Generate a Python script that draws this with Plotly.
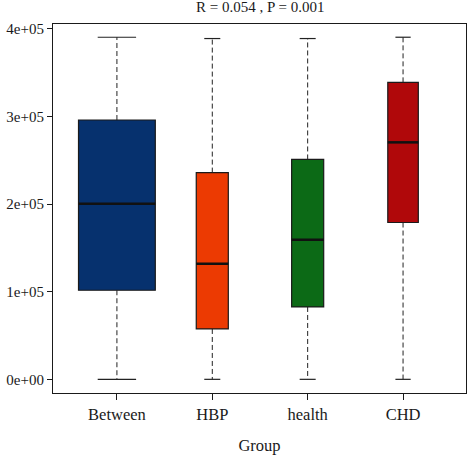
import plotly.graph_objects as go

groups = ["Between", "HBP", "health", "CHD"]
lower_whisker = [0, 0, 0, 0]
q1 = [101700, 57500, 82600, 179000]
median = [200300, 131800, 159200, 270500]
q3 = [296000, 236000, 251000, 339000]
upper_whisker = [390500, 389000, 389000, 390500]
box_widths = [0.805, 0.336, 0.336, 0.32]
colors = ["#06316E", "#EC3A02", "#0C6A16", "#B0080A"]

yticks = [0, 100000, 200000, 300000, 400000]
ytick_labels = ["0e+00", "1e+05", "2e+05", "3e+05", "4e+05"]

FONT = "Liberation Serif"
fig = go.Figure()

xpos = list(range(1, len(groups) + 1))

for i, g in enumerate(groups):
    x = xpos[i]
    hw = box_widths[i] / 2
    cw = hw / 2
    # dashed whiskers
    fig.add_trace(go.Scatter(
        x=[x, x, None, x, x],
        y=[q3[i], upper_whisker[i], None, q1[i], lower_whisker[i]],
        mode="lines", line=dict(color="#222222", width=1, dash="5px,3px"),
        showlegend=False, hoverinfo="skip"))
    # caps
    fig.add_trace(go.Scatter(
        x=[x - cw, x + cw, None, x - cw, x + cw],
        y=[upper_whisker[i], upper_whisker[i], None, lower_whisker[i], lower_whisker[i]],
        mode="lines", line=dict(color="#222222", width=1.2),
        showlegend=False, hoverinfo="skip"))
    fig.add_trace(go.Box(
        x=[x], q1=[q1[i]], median=[median[i]], q3=[q3[i]],
        lowerfence=[q1[i]], upperfence=[q3[i]],
        width=box_widths[i], whiskerwidth=0,
        fillcolor=colors[i], line=dict(color="#1a1a1a", width=1.2),
        boxpoints=False, showlegend=False, name=g))
    # thicker median line
    fig.add_trace(go.Scatter(
        x=[x - hw, x + hw], y=[median[i], median[i]],
        mode="lines", line=dict(color="#111111", width=2.5),
        showlegend=False, hoverinfo="skip"))

fig.update_layout(
    width=468, height=455,
    margin=dict(l=53, r=2, t=24, b=62),
    paper_bgcolor="white", plot_bgcolor="white",
    font=dict(family=FONT, size=15, color="#1a1a1a"),
    xaxis=dict(range=[0.33, 4.66], tickmode="array", tickvals=xpos, ticktext=groups,
               showgrid=False, zeroline=False, showline=True, mirror=True,
               linecolor="#1a1a1a", linewidth=1.2, ticks="outside", ticklen=6,
               tickcolor="#1a1a1a", tickfont=dict(size=16.5), automargin=False,
               title=dict(text="Group", font=dict(size=16.5), standoff=18)),
    yaxis=dict(range=[-15600, 405600], tickmode="array", tickvals=yticks,
               ticktext=ytick_labels, showgrid=False, zeroline=False,
               showline=True, mirror=True, linecolor="#1a1a1a", linewidth=1.2,
               ticks="outside", ticklen=5, tickcolor="#1a1a1a", tickfont=dict(size=15),
               automargin=False),
    annotations=[dict(text="R = 0.054 , P = 0.001", xref="paper", yref="paper",
                      x=0.5, y=1 + 17 / 369, yanchor="middle", xanchor="center",
                      showarrow=False, font=dict(size=15))],
)

fig.write_html("out.html", config={"displayModeBar": False},
               post_script="document.body.style.margin='0';document.body.style.overflow='hidden';")
